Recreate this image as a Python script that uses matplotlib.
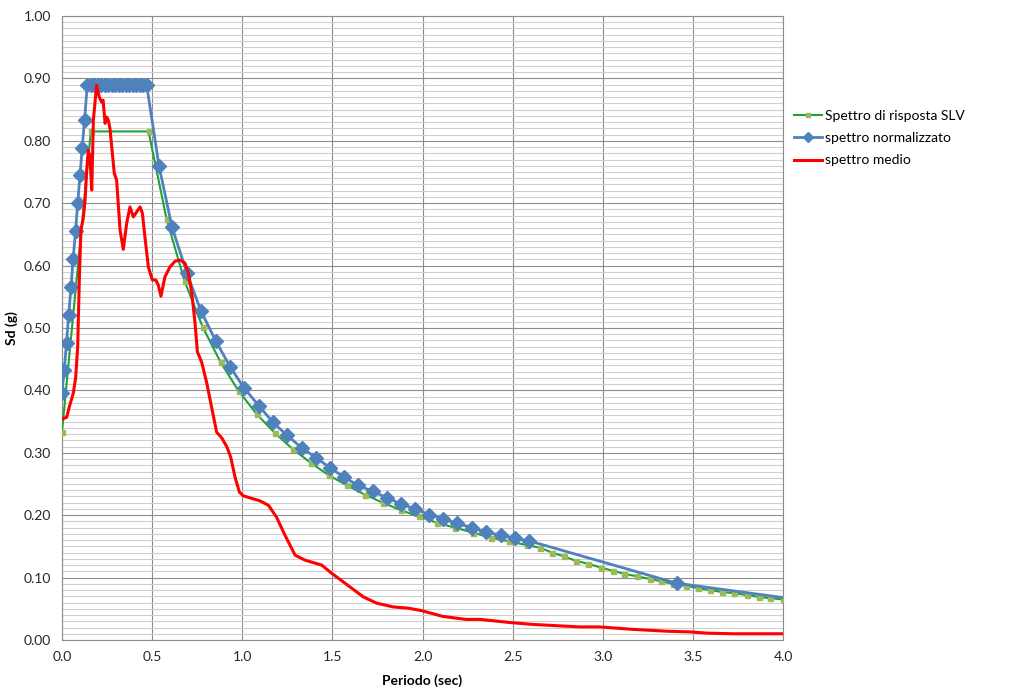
import matplotlib
matplotlib.use("Agg")
import matplotlib.pyplot as plt
from matplotlib.ticker import MultipleLocator

plt.rcParams['font.family'] = ['Lato', 'DejaVu Sans']

# Spettro di risposta SLV
slv_T = [0.00, 0.16, 0.48, 0.58, 0.68, 0.78, 0.88, 0.98, 1.08, 1.18, 1.28, 1.38,
         1.48, 1.58, 1.68, 1.78, 1.88, 1.98, 2.08, 2.18, 2.28, 2.38, 2.48, 2.58,
         2.65, 2.72, 2.785, 2.85, 2.92, 2.99, 3.055, 3.12, 3.19, 3.26, 3.325,
         3.39, 3.46, 3.53, 3.595, 3.66, 3.73, 3.80, 3.865, 3.93, 4.00]
slv_Sd = [0.334, 0.815, 0.815, 0.675, 0.575, 0.502, 0.445, 0.399, 0.362, 0.332,
          0.306, 0.284, 0.264, 0.248, 0.233, 0.220, 0.208, 0.198, 0.188, 0.180,
          0.172, 0.164, 0.158, 0.152, 0.148, 0.140, 0.134, 0.127, 0.122, 0.116,
          0.111, 0.106, 0.102, 0.098, 0.094, 0.090, 0.087, 0.083, 0.080, 0.077,
          0.075, 0.072, 0.069, 0.067, 0.065]

# spettro normalizzato
norm_T = [0.000, 0.012, 0.025, 0.037, 0.050, 0.062, 0.075, 0.087, 0.100, 0.112,
          0.125, 0.140, 0.159, 0.178, 0.198, 0.217, 0.237, 0.256, 0.276, 0.295,
          0.315, 0.334, 0.354, 0.373, 0.393, 0.412, 0.432, 0.451, 0.470,
          0.538, 0.610, 0.693, 0.771, 0.854, 0.932, 1.010, 1.093, 1.170, 1.248,
          1.330, 1.410, 1.487, 1.565, 1.642, 1.725, 1.803, 1.881, 1.960, 2.036,
          2.114, 2.190, 2.275, 2.350, 2.435, 2.513, 2.590, 3.410, 4.000]
norm_Sd = [0.396, 0.432, 0.476, 0.521, 0.566, 0.611, 0.656, 0.700, 0.745, 0.789,
           0.833, 0.889, 0.889, 0.889, 0.889, 0.889, 0.889, 0.889, 0.889, 0.889,
           0.889, 0.889, 0.889, 0.889, 0.889, 0.889, 0.889, 0.889, 0.889,
           0.760, 0.662, 0.588, 0.527, 0.479, 0.438, 0.404, 0.375, 0.349, 0.328,
           0.308, 0.292, 0.276, 0.261, 0.248, 0.238, 0.228, 0.218, 0.210, 0.201,
           0.194, 0.187, 0.180, 0.173, 0.168, 0.163, 0.159, 0.091, 0.068]

# spettro medio
med_T = [0.000, 0.026, 0.039, 0.063, 0.076, 0.087, 0.096, 0.105, 0.118, 0.128,
         0.137, 0.146, 0.155, 0.165, 0.174, 0.192, 0.207, 0.220, 0.228, 0.239,
         0.248, 0.257, 0.266, 0.276, 0.290, 0.303, 0.322, 0.340, 0.359, 0.377,
         0.396, 0.414, 0.433, 0.446, 0.460, 0.479, 0.501, 0.520, 0.534, 0.549,
         0.571, 0.599, 0.627, 0.655, 0.682, 0.701, 0.720, 0.738, 0.751, 0.775,
         0.803, 0.830, 0.858, 0.886, 0.914, 0.936, 0.960, 0.984, 1.006, 1.052,
         1.098, 1.145, 1.190, 1.237, 1.293, 1.348, 1.441, 1.496, 1.598, 1.672,
         1.746, 1.838, 1.921, 1.996, 2.110, 2.240, 2.320, 2.485, 2.610, 2.740,
         2.870, 2.980, 3.170, 3.360, 3.480, 3.580, 3.720, 4.000]
med_Sd = [0.354, 0.357, 0.372, 0.396, 0.421, 0.470, 0.577, 0.657, 0.676, 0.705,
          0.753, 0.785, 0.774, 0.721, 0.833, 0.889, 0.870, 0.862, 0.865, 0.828,
          0.838, 0.833, 0.820, 0.790, 0.748, 0.737, 0.657, 0.626, 0.668, 0.694,
          0.678, 0.686, 0.694, 0.684, 0.646, 0.598, 0.577, 0.577, 0.569, 0.551,
          0.582, 0.598, 0.607, 0.609, 0.604, 0.588, 0.556, 0.508, 0.462, 0.445,
          0.412, 0.373, 0.333, 0.324, 0.310, 0.293, 0.261, 0.237, 0.231, 0.227,
          0.223, 0.216, 0.197, 0.168, 0.136, 0.128, 0.120, 0.107, 0.085, 0.069,
          0.059, 0.053, 0.051, 0.047, 0.038, 0.033, 0.033, 0.028, 0.025, 0.023,
          0.021, 0.021, 0.017, 0.014, 0.013, 0.011, 0.010, 0.010]

fig = plt.figure(figsize=(10.24, 6.95), dpi=100)
ax = fig.add_axes([62 / 1024, 55 / 695, 721 / 1024, 624 / 695])

ax.plot(slv_T, slv_Sd, color='#1fa23c', lw=1.5, marker='s', ms=3.6,
        mfc='#9bbb59', mec='#9bbb59', label='Spettro di risposta SLV', zorder=3)
ax.plot(norm_T, norm_Sd, color='#4f81bd', lw=2.0, marker='D', ms=7,
        mfc='#4f81bd', mec='#4f81bd', markevery=list(range(len(norm_T) - 1)),
        label='spettro normalizzato', zorder=4)
ax.plot(med_T, med_Sd, color='#ff0000', lw=2.2, label='spettro medio', zorder=5)

ax.set_xlim(0, 4.0)
ax.set_ylim(0, 1.0)
ax.xaxis.set_major_locator(MultipleLocator(0.5))
ax.yaxis.set_major_locator(MultipleLocator(0.1))
ax.yaxis.set_minor_locator(MultipleLocator(0.01))
ax.xaxis.set_major_formatter(plt.FormatStrFormatter('%.1f'))
ax.yaxis.set_major_formatter(plt.FormatStrFormatter('%.2f'))

ax.grid(which='major', axis='both', color='#8c8c8c', lw=0.8)
ax.grid(which='minor', axis='y', color='#cfcfcf', lw=0.8)
ax.set_axisbelow(True)
ax.tick_params(which='both', length=0, labelsize=10, colors='#262626', pad=8)
for s in ax.spines.values():
    s.set_color('#8c8c8c')
    s.set_linewidth(0.8)

ax.set_xlabel('Periodo (sec)', fontsize=10, fontweight='bold', labelpad=8)
ax.set_ylabel('Sd (g)', fontsize=10, fontweight='bold', labelpad=4)

ax.legend(loc='upper left', bbox_to_anchor=(0.998, 0.87), frameon=False,
          fontsize=10, handlelength=2.0, handletextpad=0.2, labelspacing=0.75,
          markerscale=0.8)

fig.savefig('out.png', dpi=100)
